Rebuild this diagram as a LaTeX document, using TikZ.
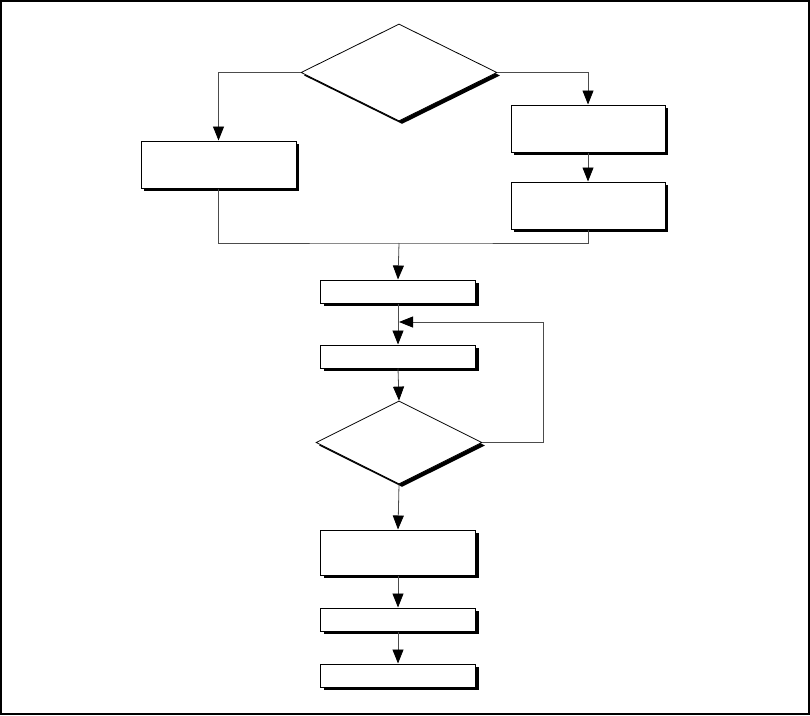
\documentclass[tikz,border=0pt]{standalone}
\usetikzlibrary{shapes.geometric,shadows,arrows.meta}
\begin{document}
\begin{tikzpicture}[x=1pt,y=-1pt,
  shd/.style={drop shadow={shadow xshift=3pt,shadow yshift=-3pt,opacity=1,fill=black}},
  box/.style={draw=black,line width=1pt,fill=white,rectangle,inner sep=0pt,minimum width=155pt,shd},
  dia/.style={draw=black,line width=0.8pt,fill=white,diamond,inner sep=0pt,shd},
  conn/.style={draw=black!70,line width=0.8pt},
  arr/.style={conn,-{Triangle[black,width=11pt,length=14pt]}}]
\useasboundingbox (0,0) rectangle (810,715);
\draw[line width=2pt] (1,1) rectangle (809,714);
% nodes
\node[dia,minimum width=196pt,minimum height=97pt] (d1) at (399,72.5) {};
\node[box,minimum height=47pt] (lb) at (218.5,164.5) {};
\node[box,minimum width=154pt,minimum height=47pt] (rb1) at (588,128.5) {};
\node[box,minimum width=154pt,minimum height=47pt] (rb2) at (588,205.5) {};
\node[box,minimum height=23pt] (a) at (398,291.5) {};
\node[box,minimum height=23pt] (b) at (398,356.5) {};
\node[dia,minimum width=166pt,minimum height=83pt] (d2) at (399,442.5) {};
\node[box,minimum height=45pt] (c) at (398,552.5) {};
\node[box,minimum height=23pt] (d) at (398,619.5) {};
\node[box,minimum height=23pt] (e) at (398,675.5) {};
\coordinate (j) at (399,243);
\coordinate (lp) at (543,322);
\coordinate (lt) at (399,322);
% connectors
\draw[arr] (d1.west) -| (lb.north);
\draw[arr] (d1.east) -| (rb1.north);
\draw[arr] (rb1.south) -- (rb2.north);
\draw[conn] (lb.south) |- (j) -| (rb2.south);
\draw[arr] (j) -- (a.north);
\draw[arr] (a.south) -- (b.north);
\draw[arr] (b.south) -- (d2.north);
\draw[arr] (d2.east) -| (lp) -- (lt);
\draw[arr] (d2.south) -- (c.north);
\draw[arr] (c.south) -- (d.north);
\draw[arr] (d.south) -- (e.north);
\end{tikzpicture}
\end{document}
